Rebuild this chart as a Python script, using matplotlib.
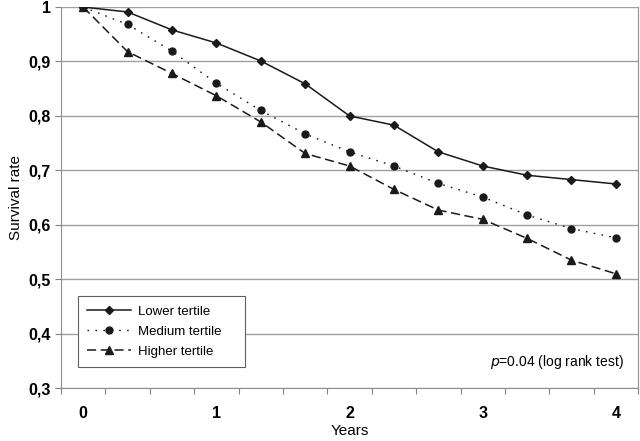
import numpy as np
from matplotlib import pyplot as plt

plt.rcParams['font.family'] = ['Liberation Sans', 'DejaVu Sans']

# follow-up points, every 4 months over 4 years
idx = np.arange(13)
year_labels = ['0', '1', '2', '3', '4']

lower = [1.0, 0.991, 0.958, 0.934, 0.901, 0.859, 0.800, 0.783, 0.734, 0.708, 0.691, 0.683, 0.675]
medium = [1.0, 0.968, 0.919, 0.860, 0.810, 0.767, 0.734, 0.708, 0.676, 0.651, 0.618, 0.593, 0.576]
higher = [1.0, 0.918, 0.878, 0.837, 0.789, 0.731, 0.708, 0.665, 0.627, 0.610, 0.575, 0.535, 0.510]

ink = '#1a1a1a'
fig = plt.figure(figsize=(6.4, 4.41), dpi=100)
ax = fig.add_axes([0.0953, 0.120, 0.9017, 0.864])

ax.plot(idx, lower, color=ink, lw=1.1, ls='-', marker='D', ms=4.5, label='Lower tertile')
ax.plot(idx, medium, color=ink, lw=1.0, ls=(0, (1.2, 4.5)), marker='o', ms=5, label='Medium tertile')
ax.plot(idx, higher, color=ink, lw=1.1, ls=(0, (6, 3)), marker='^', ms=6, label='Higher tertile')

ax.set_xlim(-0.5, 12.5)
ax.set_ylim(0.3, 1.0)
ax.set_yticks(np.arange(0.3, 1.01, 0.1))
ax.set_yticklabels(['0,3', '0,4', '0,5', '0,6', '0,7', '0,8', '0,9', '1'],
                   fontweight='bold', fontsize=11.5)
ax.set_xticks(np.arange(-0.5, 12.6, 1.0))
ax.set_xticklabels([])
ax.set_xticks([0, 3, 6, 9, 12], minor=True)
ax.set_xticklabels(year_labels, minor=True, fontweight='bold', fontsize=11.5)
ax.tick_params(axis='x', which='major', length=4, color='#808080', direction='out')
ax.tick_params(axis='x', which='minor', length=0, pad=13)
ax.tick_params(axis='y', length=4, color='#808080', direction='out')

ax.grid(axis='y', color='#a0a0a0', lw=1.0)
ax.set_axisbelow(True)
for s in ax.spines.values():
    s.set_color('#909090')
ax.spines['top'].set_visible(False)

ax.set_ylabel('Survival rate', fontsize=11)
ax.set_xlabel('Years', fontsize=11, labelpad=2)

leg = ax.legend(loc='lower left', bbox_to_anchor=(0.029, 0.055, 0.29, 0.18), mode='expand',
                borderaxespad=0, fancybox=False, edgecolor='#606060', framealpha=1,
                fontsize=9.5, handlelength=3.3, handletextpad=0.6, borderpad=0.7,
                labelspacing=0.6)
leg.get_frame().set_linewidth(0.8)

ax.text(0.975, 0.068, r'$\it{p}$=0.04 (log rank test)', transform=ax.transAxes,
        ha='right', va='center', fontsize=10)

plt.savefig('out.png', dpi=100)
